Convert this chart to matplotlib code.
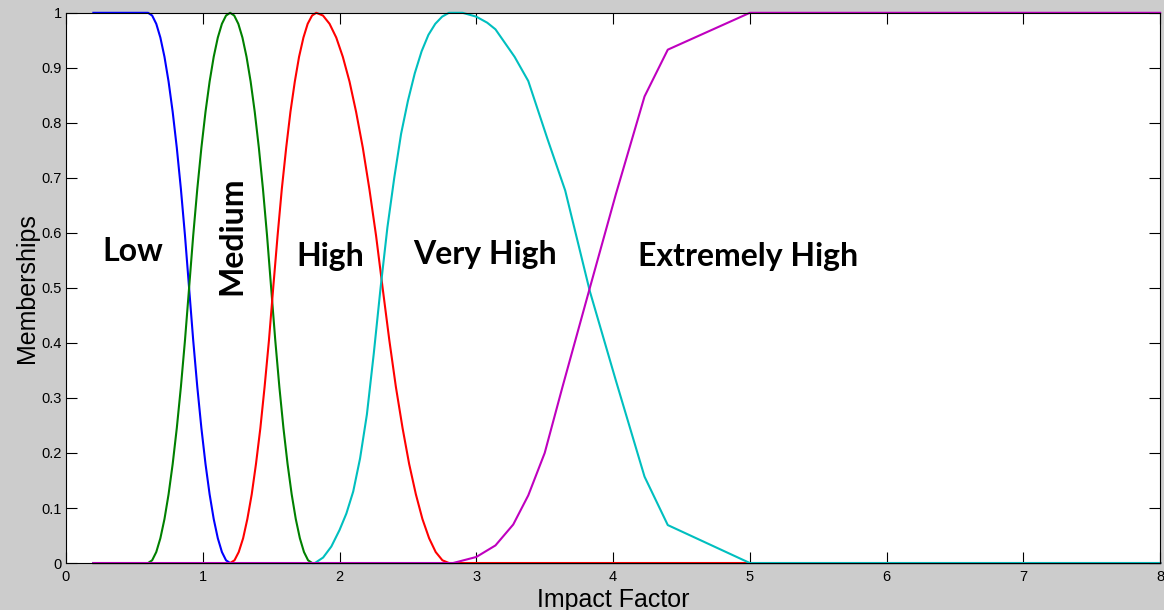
#!/usr/bin/env python3
"""Membership functions of the impact factor fuzzy sets."""

import matplotlib
matplotlib.use('Agg')
import matplotlib.pyplot as plt

# --- membership curves (x, mu) ---
low_x = [0.2, 0.6, 0.63, 0.66, 0.69, 0.72, 0.75, 0.78, 0.81, 0.84, 0.87, 0.9,
         0.93, 0.96, 0.99, 1.02, 1.05, 1.08, 1.11, 1.14, 1.17, 1.2, 8.0]
low_y = [1, 1, 0.995, 0.98, 0.955, 0.92, 0.875, 0.82, 0.755, 0.68, 0.595, 0.5,
         0.405, 0.32, 0.245, 0.18, 0.125, 0.08, 0.045, 0.02, 0.005, 0, 0]

medium_x = [0.2, 0.6, 0.63, 0.66, 0.69, 0.72, 0.75, 0.78, 0.81, 0.84, 0.87, 0.9,
            0.93, 0.96, 0.99, 1.02, 1.05, 1.08, 1.11, 1.14, 1.17, 1.2,
            1.23, 1.26, 1.29, 1.32, 1.35, 1.38, 1.41, 1.44, 1.47, 1.5,
            1.53, 1.56, 1.59, 1.62, 1.65, 1.68, 1.71, 1.74, 1.77, 1.8, 8.0]
medium_y = [0, 0, 0.005, 0.02, 0.045, 0.08, 0.125, 0.18, 0.245, 0.32, 0.405, 0.5,
            0.595, 0.68, 0.755, 0.82, 0.875, 0.92, 0.955, 0.98, 0.995, 1,
            0.995, 0.98, 0.955, 0.92, 0.875, 0.82, 0.755, 0.68, 0.595, 0.5,
            0.405, 0.32, 0.245, 0.18, 0.125, 0.08, 0.045, 0.02, 0.005, 0, 0]

high_x = [0.2, 1.2, 1.232, 1.263, 1.295, 1.326, 1.358, 1.389, 1.421, 1.452, 1.484, 1.515,
          1.547, 1.578, 1.61, 1.641, 1.673, 1.704, 1.736, 1.767, 1.799, 1.83,
          1.879, 1.927, 1.976, 2.024, 2.073, 2.121, 2.17, 2.218, 2.267, 2.315,
          2.364, 2.412, 2.461, 2.509, 2.558, 2.606, 2.655, 2.703, 2.752, 2.8, 8.0]
high_y = [0, 0, 0.005, 0.02, 0.045, 0.08, 0.125, 0.18, 0.245, 0.32, 0.405, 0.5,
          0.595, 0.68, 0.755, 0.82, 0.875, 0.92, 0.955, 0.98, 0.995, 1,
          0.995, 0.98, 0.955, 0.92, 0.875, 0.82, 0.755, 0.68, 0.595, 0.5,
          0.405, 0.32, 0.245, 0.18, 0.125, 0.08, 0.045, 0.02, 0.005, 0, 0]

very_high_x = [0.2, 1.82, 1.88, 1.94, 2.0, 2.05, 2.1, 2.15, 2.2, 2.25, 2.3, 2.35, 2.4,
               2.45, 2.5, 2.55, 2.6, 2.65, 2.7, 2.75, 2.8, 2.9, 3.0, 3.08, 3.14,
               3.28, 3.38, 3.52, 3.65, 3.83, 4.02, 4.23, 4.40, 5.0, 8.0]
very_high_y = [0, 0, 0.01, 0.03, 0.06, 0.09, 0.13, 0.19, 0.27, 0.38, 0.5, 0.61, 0.7,
               0.78, 0.84, 0.89, 0.93, 0.96, 0.98, 0.993, 1.0, 1.0, 0.993, 0.982, 0.97,
               0.92, 0.876, 0.771, 0.677, 0.494, 0.332, 0.157, 0.069, 0, 0]

extreme_x = [0.2, 2.83, 3.0, 3.14, 3.27, 3.38, 3.5, 3.63, 3.83, 4.02, 4.23, 4.40, 5.0, 8.0]
extreme_y = [0, 0, 0.011, 0.032, 0.07, 0.123, 0.2, 0.32, 0.5, 0.67, 0.848, 0.933, 1.0, 1.0]

x_ticks = [0, 1, 2, 3, 4, 5, 6, 7, 8]
y_ticks = [0, 0.1, 0.2, 0.3, 0.4, 0.5, 0.6, 0.7, 0.8, 0.9, 1]
y_tick_labels = ['0', '0.1', '0.2', '0.3', '0.4', '0.5', '0.6', '0.7', '0.8', '0.9', '1']

# set names and where they sit (x, y, rotation)
set_labels = ['Low', 'Medium', 'High', 'Very High', 'Extremely High']
label_pos = [(0.49, 0.567, 0), (1.214, 0.595, 90), (1.93, 0.557, 0),
             (3.06, 0.56, 0), (4.99, 0.557, 0)]

colors = ['#0000ff', '#008000', '#ff0000', '#00bfbf', '#bf00bf']


def main():
    plt.rcParams['font.family'] = ['Liberation Sans', 'DejaVu Sans']

    fig = plt.figure(figsize=(11.64, 6.10), dpi=100, facecolor='#cccccc')
    ax = fig.add_axes([0.0567, 0.077, 0.94, 0.902])
    ax.set_facecolor('white')

    curves = [(low_x, low_y), (medium_x, medium_y), (high_x, high_y),
              (very_high_x, very_high_y), (extreme_x, extreme_y)]
    for (xs, ys), c in zip(curves, colors):
        ax.plot(xs, ys, color=c, linewidth=1.5, clip_on=False)

    for text, (tx, ty, rot) in zip(set_labels, label_pos):
        ax.text(tx, ty, text, ha='center', va='center', rotation=rot,
                fontsize=23, fontweight='bold', family=['Lato', 'DejaVu Sans'],
                color='black')

    ax.set_xlim(0, 8)
    ax.set_ylim(0, 1)
    ax.set_xticks(x_ticks)
    ax.set_yticks(y_ticks)
    ax.set_yticklabels(y_tick_labels)
    ax.tick_params(direction='in', length=8, width=0.8, labelsize=10.5,
                   top=True, right=True, pad=3)
    ax.tick_params(axis='x', pad=5)
    for sp in ax.spines.values():
        sp.set_linewidth(0.8)

    ax.set_xlabel('Impact Factor', fontsize=18, labelpad=3)
    ax.set_ylabel('Memberships', fontsize=18, labelpad=2)

    plt.savefig('out.png', dpi=100, facecolor=fig.get_facecolor())
    plt.close(fig)


if __name__ == '__main__':
    main()
